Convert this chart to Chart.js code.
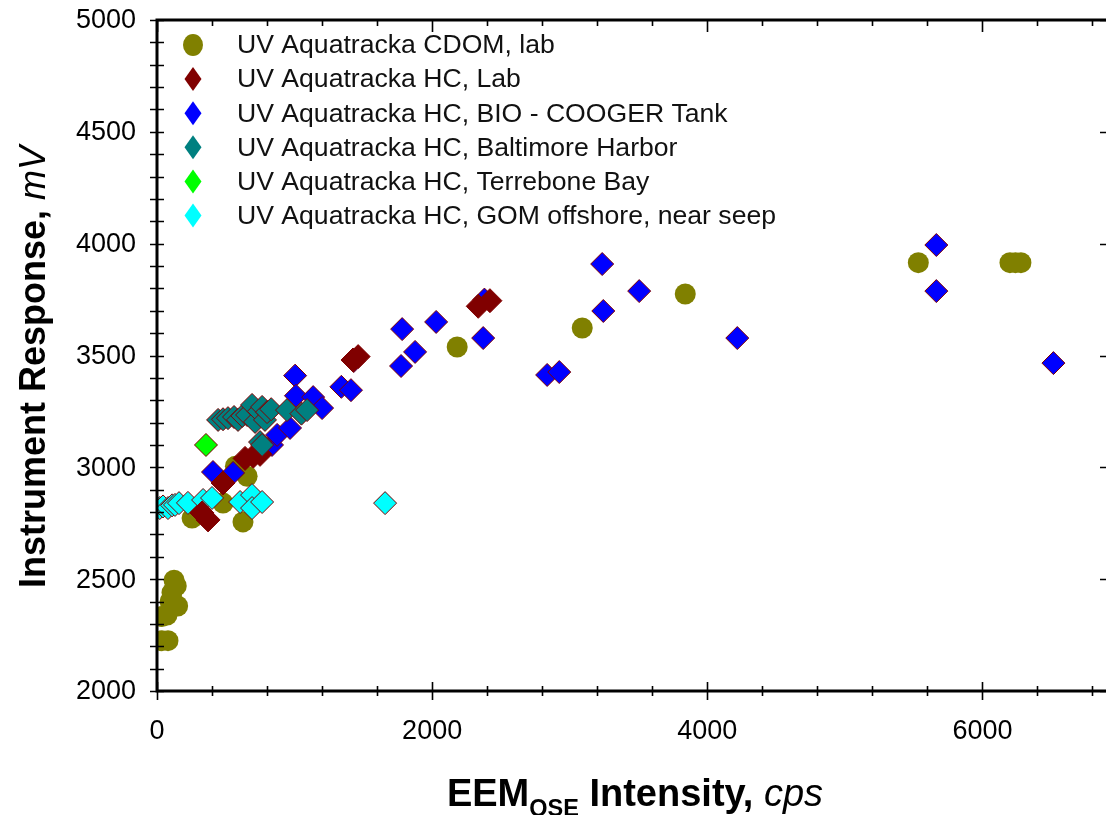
<!DOCTYPE html>
<html>
<head>
<meta charset="utf-8">
<script src="https://cdn.jsdelivr.net/npm/chart.js@4/dist/chart.umd.min.js"></script>
<style>
html,body{margin:0;padding:0;background:#fff;overflow:hidden;width:1106px;height:815px;}
#wrap{width:1106px;height:815px;overflow:hidden;position:relative;}
#c{display:block;position:absolute;left:0;top:0;}
</style>
</head>
<body>
<div id="wrap"><canvas id="c" width="1120" height="815"></canvas></div>
<script>
// ---- tick labels ----
const xTickValues = [0, 2000, 4000, 6000];
const xTickLabels = ["0", "2000", "4000", "6000"];
const yTickValues = [2000, 2500, 3000, 3500, 4000, 4500, 5000];
const yTickLabels = ["2000", "2500", "3000", "3500", "4000", "4500", "5000"];
const xMinorStep = 400;
const yMinorStep = 100;

// ---- series names ----
const seriesNames = [
  "UV Aquatracka CDOM, lab",
  "UV Aquatracka HC, Lab",
  "UV Aquatracka HC, BIO - COOGER Tank",
  "UV Aquatracka HC, Baltimore Harbor",
  "UV Aquatracka HC, Terrebone Bay",
  "UV Aquatracka HC, GOM offshore, near seep"
];

// ---- series values ----
const cdomLabX = [36, 80, 36, 73, 95, 109, 124, 140, 150, 255, 480, 570, 625, 655, 2182, 3091, 3840, 5534, 6200, 6240, 6280];
const cdomLabY = [2225, 2225, 2333, 2340, 2400, 2440, 2495, 2470, 2380, 2773, 2840, 3005, 2756, 2960, 3538, 3623, 3775, 3915, 3915, 3915, 3915];

const hcLabX = [327, 371, 480, 640, 700, 749, 1425, 1462, 2335, 2420];
const hcLabY = [2796, 2765, 2930, 3040, 3050, 3058, 3480, 3495, 3720, 3745];

const bioX = [407, 553, 836, 873, 967, 1004, 1010, 1135, 1200, 1340, 1410, 1430, 1774, 1782, 1876, 2029, 2371, 2380, 2836, 2924, 3236, 3244, 3505, 4218, 5665, 5665, 6516];
const bioY = [2979, 2975, 3100, 3145, 3176, 3410, 3320, 3314, 3265, 3360, 3345, 3475, 3453, 3618, 3516, 3650, 3578, 3750, 3413, 3426, 3909, 3699, 3788, 3578, 3994, 3788, 3466];

const baltX = [444, 480, 516, 560, 589, 620, 655, 691, 713, 740, 749, 764, 764, 785, 800, 830, 945, 1050, 1091];
const baltY = [3212, 3215, 3220, 3225, 3212, 3230, 3234, 3279, 3203, 3250, 3113, 3270, 3100, 3212, 3247, 3260, 3256, 3240, 3256];

const terrX = [356];
const terrY = [3100];

const gomX = [20, 44, 80, 110, 131, 160, 225, 335, 400, 604, 691, 691, 764, 1658];
const gomY = [2818, 2825, 2818, 2830, 2832, 2840, 2841, 2854, 2863, 2845, 2876, 2818, 2845, 2840];

const pts = (xs, ys) => xs.map((x, i) => ({x: x, y: ys[i]}));

const FONT = "'Liberation Sans', Arial, sans-serif";

const datasets = [
  {label: seriesNames[0], data: pts(cdomLabX, cdomLabY), pointStyle: 'circle', pointRadius: 10.5, backgroundColor: '#808000', borderColor: '#808000', borderWidth: 0, order: 6},
  {label: seriesNames[1], data: pts(hcLabX, hcLabY), pointStyle: 'rectRot', pointRadius: 12, backgroundColor: '#800000', borderColor: '#800000', borderWidth: 1, order: 3},
  {label: seriesNames[2], data: pts(bioX, bioY), pointStyle: 'rectRot', pointRadius: 11.5, backgroundColor: '#0000ff', borderColor: '#800000', borderWidth: 1, order: 5},
  {label: seriesNames[3], data: pts(baltX, baltY), pointStyle: 'rectRot', pointRadius: 11.5, backgroundColor: '#008080', borderColor: '#800000', borderWidth: 1, order: 2},
  {label: seriesNames[4], data: pts(terrX, terrY), pointStyle: 'rectRot', pointRadius: 11.5, backgroundColor: '#00ff00', borderColor: '#800000', borderWidth: 1, order: 1},
  {label: seriesNames[5], data: pts(gomX, gomY), pointStyle: 'rectRot', pointRadius: 11.5, backgroundColor: '#00ffff', borderColor: '#800000', borderWidth: 1, order: 4}
];

const framePlugin = {
  id: 'frame',
  afterDatasetsDraw(chart) {
    const ctx = chart.ctx;
    const a = chart.chartArea;
    const xs = chart.scales.x, ys = chart.scales.y;
    ctx.save();
    ctx.strokeStyle = '#000';
    ctx.lineWidth = 3;
    ctx.beginPath();
    ctx.rect(a.left, a.top, a.right - a.left, a.bottom - a.top);
    ctx.stroke();
    ctx.lineWidth = 1.6;
    ctx.beginPath();
    for (let v = xs.min; v <= xs.max + 0.001; v += xMinorStep) {
      const px = Math.round(xs.getPixelForValue(v)) + 0.5;
      const major = Math.abs(v % 2000) < 0.001;
      const bl = major ? 9 : 5;
      ctx.moveTo(px, a.bottom - bl); ctx.lineTo(px, a.bottom + bl);
      const tl = major ? 12 : 6;
      ctx.moveTo(px, a.top); ctx.lineTo(px, a.top + tl);
    }
    for (let v = ys.min; v <= ys.max + 0.001; v += yMinorStep) {
      const py = Math.round(ys.getPixelForValue(v)) + 0.5;
      const major = Math.abs(v % 500) < 0.001;
      ctx.moveTo(a.left - 7, py); ctx.lineTo(a.left + 7, py);
      const rl = major ? 20 : 6;
      ctx.moveTo(a.right - rl, py); ctx.lineTo(a.right, py);
    }
    ctx.stroke();
    ctx.restore();
  },
  afterDraw(chart) {
    const ctx = chart.ctx;
    const xs = chart.scales.x, ys = chart.scales.y;
    ctx.save();
    ctx.fillStyle = '#000';
    // tick labels
    ctx.font = '27px ' + FONT;
    ctx.textBaseline = 'middle';
    ctx.textAlign = 'right';
    yTickValues.forEach((v, i) => {
      ctx.fillText(yTickLabels[i], 136, ys.getPixelForValue(v) + 1);
    });
    ctx.textAlign = 'center';
    xTickValues.forEach((v, i) => {
      ctx.fillText(xTickLabels[i], xs.getPixelForValue(v), 732);
    });
    // legend
    const lx = 193, ly0 = 45, dy = 34.1;
    ctx.font = '26.6px ' + FONT;
    ctx.textBaseline = 'middle';
    ctx.textAlign = 'left';
    chart.data.datasets.forEach((ds, i) => {
      const y = ly0 + i * dy;
      ctx.fillStyle = ds.backgroundColor;
      ctx.beginPath();
      if (ds.pointStyle === 'circle') {
        ctx.ellipse(lx, y, 10, 11, 0, 0, Math.PI * 2);
      } else {
        ctx.moveTo(lx, y - 12); ctx.lineTo(lx + 8.5, y); ctx.lineTo(lx, y + 12); ctx.lineTo(lx - 8.5, y); ctx.closePath();
      }
      ctx.fill();
      ctx.fillStyle = '#111';
      ctx.fillText(ds.label, 237, y + 1);
    });
    // x title
    const parts = [
      {t: 'EEM', f: 'bold 38px ' + FONT, dy: 0},
      {t: 'QSE', f: 'bold 23.5px ' + FONT, dy: 10},
      {t: ' Intensity,', f: 'bold 38px ' + FONT, dy: 0},
      {t: ' cps', f: 'italic 38px ' + FONT, dy: 0}
    ];
    let total = 0;
    parts.forEach(p => { ctx.font = p.f; p.w = ctx.measureText(p.t).width; total += p.w; });
    let x = 635 - total / 2;
    const base = 806;
    ctx.fillStyle = '#000';
    ctx.textBaseline = 'alphabetic';
    ctx.textAlign = 'left';
    parts.forEach(p => { ctx.font = p.f; ctx.fillText(p.t, x, base + p.dy); x += p.w; });
    // y title
    const yparts = [
      {t: 'Instrument Response, ', f: 'bold 36px ' + FONT},
      {t: 'mV', f: 'italic 36px ' + FONT}
    ];
    let ytot = 0;
    yparts.forEach(p => { ctx.font = p.f; p.w = ctx.measureText(p.t).width; ytot += p.w; });
    ctx.translate(45, 367);
    ctx.rotate(-Math.PI / 2);
    let yx = -ytot / 2;
    yparts.forEach(p => { ctx.font = p.f; ctx.fillText(p.t, yx, 0); yx += p.w; });
    ctx.restore();
  }
};

new Chart(document.getElementById('c'), {
  type: 'scatter',
  data: {datasets: datasets},
  options: {
    responsive: false,
    animation: false,
    devicePixelRatio: 1,
    layout: {autoPadding: false, padding: {top: 20, right: 0, left: 0, bottom: 0}},
    plugins: {legend: {display: false}, tooltip: {enabled: false}},
    scales: {
      x: {
        type: 'linear', min: 0, max: 7000,
        grid: {display: false, drawTicks: false},
        border: {display: false},
        afterBuildTicks: s => { s.ticks = xTickValues.map(v => ({value: v})); },
        afterFit: s => { s.height = 124; },
        ticks: {display: false}
      },
      y: {
        type: 'linear', min: 2000, max: 5000,
        grid: {display: false, drawTicks: false},
        border: {display: false},
        afterBuildTicks: s => { s.ticks = yTickValues.map(v => ({value: v})); },
        afterFit: s => { s.width = 157; },
        ticks: {display: false}
      }
    }
  },
  plugins: [framePlugin]
});
</script>
</body>
</html>
